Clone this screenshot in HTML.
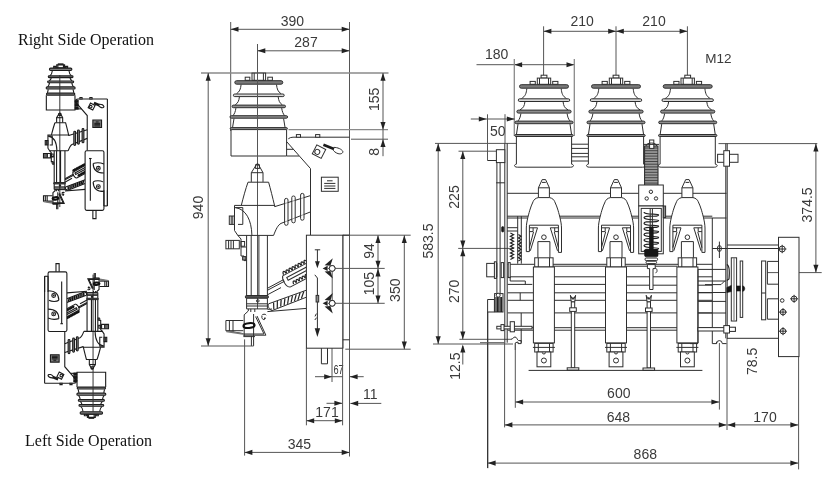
<!DOCTYPE html>
<html><head><meta charset="utf-8"><title>Switch dimensions</title>
<style>
html,body{margin:0;padding:0;background:#fff}
body{width:839px;height:483px;overflow:hidden}
svg{display:block;filter:blur(.4px)}
.d{fill:none;stroke:#2e2e2e;stroke-width:1}
.w{fill:#fff}
.g0{fill:#d8d8d8}
.wr{fill:rgba(255,255,255,.55)}
.g1{fill:#8e8e8e;stroke:#2e2e2e;stroke-width:1}
.g2{fill:#7a7a7a;stroke:#2e2e2e;stroke-width:1}
.g3{fill:none;stroke:#777;stroke-width:1.6}
.k{fill:none;stroke:#222;stroke-width:1.2}
.ksp{fill:none;stroke:#1a1a1a;stroke-width:2.7}
.k2{fill:#555;stroke:#222;stroke-width:1}
.k3{fill:none;stroke:#111;stroke-width:2}
.k4{fill:#222;stroke:none}
.m{fill:none;stroke:#555;stroke-width:1}
.m2{fill:none;stroke:#8a8a8a;stroke-width:1.3}
.a{fill:#222;stroke:none}
.kf{fill:#161616;stroke:#161616;stroke-width:.6}
.hz{fill:#9a9a9a;stroke:#222;stroke-width:1}
.hl{fill:none;stroke:#3a3a3a;stroke-width:.9}
.t{font-family:"Liberation Sans",sans-serif;font-size:14px;fill:#3a3a3a}
.sm path,.sm rect,.sm circle,.sm ellipse{vector-effect:non-scaling-stroke}
.sm .d{stroke:#1c1c1c;stroke-width:1.1}
.sm .k{stroke-width:1.5;stroke:#111}
.sm .m{stroke:#333}
.s{font-family:"Liberation Serif",serif;font-size:16px;fill:#111}
</style></head>
<body>
<svg width="839" height="483" viewBox="0 0 839 483">
<rect width="839" height="483" fill="#fff"/>
<g id="sideview">
<path class="m" d="M230.7 22L230.7 131"/>
<path class="m" d="M349.5 22L349.5 456.5"/>
<path class="m" d="M230.7 29.3L349.5 29.3"/>
<path class="a" d="M230.7 29.3L238.5 26.75L238.5 31.85Z"/>
<path class="a" d="M349.5 29.3L341.7 31.85L341.7 26.75Z"/>
<text class="t" x="292.4" y="25.7" text-anchor="middle">390</text>
<path class="m" d="M257.5 50.8L349.5 50.8"/>
<path class="a" d="M257.5 50.8L265.3 48.25L265.3 53.35Z"/>
<path class="a" d="M349.5 50.8L341.7 53.35L341.7 48.25Z"/>
<text class="t" x="306" y="47" text-anchor="middle">287</text>
<path class="m2" d="M201 73L388.5 73"/>
<path class="m" d="M208.2 73L208.2 346"/>
<path class="a" d="M208.2 73L210.75 80.8L205.65 80.8Z"/>
<path class="a" d="M208.2 346L205.65 338.2L210.75 338.2Z"/>
<path class="m" d="M201 346L253.6 346"/>
<text class="t" x="202.8" y="207.5" text-anchor="middle" transform="rotate(-90 202.8 207.5)">940</text>
<path class="m2" d="M288.5 129.7L388 129.7"/>
<path class="m" d="M383 73L383 129.7"/>
<path class="a" d="M383 73L385.55 80.8L380.45 80.8Z"/>
<path class="a" d="M383 129.7L380.45 121.9L385.55 121.9Z"/>
<text class="t" x="378.6" y="99.3" text-anchor="middle" transform="rotate(-90 378.6 99.3)">155</text>
<path class="m" d="M351 139.2L388 139.2"/>
<path class="m" d="M383 129.7L383 156.2"/>
<path class="a" d="M383 139.2L385.55 147L380.45 147Z"/>
<text class="t" x="378.6" y="151.9" text-anchor="middle" transform="rotate(-90 378.6 151.9)">8</text>
<path class="m" d="M378 235.2L378 303.3"/>
<path class="a" d="M378 235.2L380.55 243L375.45 243Z"/>
<path class="a" d="M378 268.6L375.45 260.8L380.55 260.8Z"/>
<path class="a" d="M378 268.6L380.55 276.4L375.45 276.4Z"/>
<path class="a" d="M378 303.3L375.45 295.5L380.55 295.5Z"/>
<text class="t" x="373.8" y="251" text-anchor="middle" transform="rotate(-90 373.8 251)">94</text>
<text class="t" x="373.8" y="283.6" text-anchor="middle" transform="rotate(-90 373.8 283.6)">105</text>
<path class="m" d="M342.8 235.2L410.7 235.2"/>
<path class="m" d="M345.3 349.2L410.7 349.2"/>
<path class="m" d="M404.3 235.2L404.3 349.2"/>
<path class="a" d="M404.3 235.2L406.85 243L401.75 243Z"/>
<path class="a" d="M404.3 349.2L401.75 341.4L406.85 341.4Z"/>
<text class="t" x="400.4" y="290.2" text-anchor="middle" transform="rotate(-90 400.4 290.2)">350</text>
<path class="m" d="M332 306.6L332 382"/>
<path class="m" d="M315 376.7L342.8 376.7"/>
<path class="a" d="M332 376.7L324.2 379.25L324.2 374.15Z"/>
<path class="m" d="M349.8 376.7L363.7 376.7"/>
<path class="a" d="M349.8 376.7L357.6 374.15L357.6 379.25Z"/>
<text class="t" x="333.4" y="373.6" style="font-size:13px" textLength="10.2" lengthAdjust="spacingAndGlyphs">67</text>
<path class="m" d="M326.5 403.3L342.2 403.3"/>
<path class="a" d="M342.2 403.3L334.4 405.85L334.4 400.75Z"/>
<path class="m" d="M350.4 403.4L381.3 403.4"/>
<path class="a" d="M350.4 403.4L358.2 400.85L358.2 405.95Z"/>
<text class="t" x="370.2" y="399" text-anchor="middle">11</text>
<path class="m" d="M306.4 348.2L306.4 425.3"/>
<path class="m" d="M342.6 348.2L342.6 425.3"/>
<path class="m" d="M306.4 420.7L342.6 420.7"/>
<path class="a" d="M306.4 420.7L314.2 418.15L314.2 423.25Z"/>
<path class="a" d="M342.6 420.7L334.8 423.25L334.8 418.15Z"/>
<text class="t" x="327" y="417.4" text-anchor="middle">171</text>
<path class="m" d="M244.6 339.4L244.6 455.6"/>
<path class="m" d="M244.6 452.4L349.5 452.4"/>
<path class="a" d="M244.6 452.4L252.4 449.85L252.4 454.95Z"/>
<path class="a" d="M349.5 452.4L341.7 454.95L341.7 449.85Z"/>
<text class="t" x="299.4" y="448.7" text-anchor="middle">345</text>
<path class="d" d="M342.8 235.2L342.8 348.2"/>
<rect class="d w" x="252" y="73.1" width="13.6" height="7.2"/>
<path class="d" d="M254.2 73.1L254.2 80.3"/>
<path class="d" d="M263.4 73.1L263.4 80.3"/>
<rect class="d w" x="245.2" y="77.2" width="4.61" height="3.1"/>
<rect class="d w" x="267.79" y="77.2" width="4.61" height="3.1"/>
<path class="d" d="M241.1 84.6C240.6 89.1 239.7 91.62 236.5 93.8"/>
<path class="d" d="M276.5 84.6C277 89.1 277.9 91.62 281.1 93.8"/>
<path class="d" d="M239.4 97C238.9 100.85 238 103.01 235.2 104.9"/>
<path class="d" d="M278.2 97C278.7 100.85 279.6 103.01 282.4 104.9"/>
<path class="d" d="M235.9 108.1C235.4 111.7 234.5 113.72 233.1 115.5"/>
<path class="d" d="M281.7 108.1C282.2 111.7 283.1 113.72 284.5 115.5"/>
<path class="d" d="M234 118.6L232.6 127.2"/>
<path class="d" d="M283.6 118.6L285 127.2"/>
<rect class="d g2" x="234.8" y="80.7" width="48" height="3.5" rx="1.75"/>
<rect class="d g0" x="233.4" y="94" width="50.8" height="2.6" rx="1.3"/>
<rect class="d g1" x="232.1" y="105.1" width="53.4" height="2.6" rx="1.3"/>
<rect class="d g1" x="230" y="115.7" width="57.6" height="2.5" rx="1.25"/>
<rect class="d g1" x="230.2" y="127.6" width="57.2" height="2" rx="1"/>
<path class="d" d="M231 130L231 156L286.6 156L286.6 130"/>
<path class="m" d="M257.5 44L257.5 309"/>
<path class="d" d="M288.3 138.8Q290 137.3 293 137.2L349.5 137.2"/>
<rect class="d w" x="296.4" y="134.6" width="4.1" height="2.6"/>
<rect class="d w" x="315.6" y="134.6" width="4.2" height="2.6"/>
<path class="d" d="M286.8 141.8L310.5 168.6L310.5 235"/>
<path class="d" d="M286.8 149.3L293.3 149.3"/>
<path class="d" d="M286.8 156L299 156"/>
<g transform="rotate(27 319 151.6)">
<rect class="d w" x="314" y="146.6" width="10" height="10"/>
<circle class="d w" cx="317.6" cy="152.6" r="2.5"/>
</g>
<path class="ksp" d="M323.4 144.8L334 149"/>
<path class="d" d="M333.6 147.4C337.5 147.2 342 149.4 342.8 151.4C343.2 153.4 340.6 154.4 338 153.6C335.4 152.8 333.8 151 333.2 150.2"/>
<rect class="d w" x="321.4" y="177.2" width="16.8" height="14.1"/>
<path class="d" d="M327 180.8L332.6 180.8"/>
<path class="d" d="M324.2 183.4L335.4 183.4"/>
<path class="d" d="M324.2 186L335.4 186"/>
<path class="d" d="M324.2 188.4L335.4 188.4"/>
<path class="d" d="M257.2 163.4L251.3 172.7L251.3 181.9"/>
<path class="d" d="M257.8 163.4L263 172.7L263 181.9"/>
<path class="d" d="M251.3 172.7L263 172.7"/>
<rect class="d" x="255.6" y="164.8" width="3.8" height="3.6"/>
<path class="d" d="M248 182.2L268.6 182.2C270.5 189 272.5 197 274.8 206.6"/>
<path class="d" d="M248 182.2C245.6 189 243.4 197 241.3 205.4"/>
<path class="d" d="M274.8 206.6L274.6 205.4L234.5 205.4L234.5 230.5L237.8 235.4L273.6 235.4"/>
<path class="d" d="M274.8 206.6L310.5 195.6"/>
<path class="d" d="M273.6 235.4C276 229 278 225 281 223.4L310.5 211.9"/>
<rect class="d wr" x="284.6" y="198.4" width="3.4" height="26.9" rx="1.6"/>
<rect class="d wr" x="291.8" y="196" width="3.4" height="26.8" rx="1.6"/>
<rect class="d wr" x="300.6" y="193.4" width="3.4" height="26.8" rx="1.6"/>
<path class="d" d="M235.2 207.6C246 209 251.5 220 251.9 235.2"/>
<path class="d" d="M235.2 207.6L242.8 207.6L242.8 224.4L238 224.4"/>
<rect class="d w" x="229.3" y="216" width="5.2" height="8.4"/>
<path class="d" d="M231.2 216L231.2 224.4"/>
<path class="d" d="M232.8 216L232.8 224.4"/>
<rect class="d w" x="225.9" y="240.4" width="13.4" height="8.4"/>
<path class="d" d="M228.6 240.4L228.6 248.8"/>
<path class="d" d="M231 240.4L231 248.8"/>
<path class="d" d="M233.4 240.4L233.4 248.8"/>
<path class="d" d="M237.8 235.4L241 239L241 247L246 247"/>
<rect class="d" x="241" y="241.5" width="3.6" height="4.7"/>
<path class="d" d="M241 247L241 256L244 256L244 260.6L246.6 260.6"/>
<rect class="g1" x="242.6" y="256.6" width="3.2" height="3.4"/>
<path class="d" d="M246.6 235.4L246.6 296"/>
<path class="d" d="M267.4 235.4L267.4 296"/>
<path class="d" d="M251.2 235.4L251.2 296"/>
<path class="d" d="M258.9 235.4L258.9 296"/>
<rect class="k2" x="245.4" y="295.6" width="23" height="2.6" rx="1"/>
<path class="d" d="M246.6 298.2L246.6 308.9"/>
<path class="d" d="M267.4 298.2L267.4 308.9"/>
<path class="d" d="M246.6 303.8L267.4 303.8"/>
<path class="d" d="M246.6 306L267.4 306"/>
<path class="d" d="M246.6 308.9L267.4 308.9"/>
<circle class="d" cx="257.8" cy="300.9" r="1.3"/>
<path class="d" d="M248.3 308.9L248.3 311L244.2 314.8L244.2 336.4"/>
<path class="d" d="M250.8 308.9L250.8 312"/>
<path class="d" d="M254.8 308.9L254.8 312"/>
<path class="d" d="M253.6 314L253.6 345.9"/>
<path class="d" d="M251.4 336L251.4 345.9"/>
<path class="d" d="M243.3 320.5L225.9 320.5L225.9 330.7L243.3 333.6"/>
<path class="d" d="M225.9 330.7L243.3 330.7"/>
<path class="d" d="M229.4 320.5L229.4 331.2"/>
<path class="d" d="M233 320.5L233 331.8"/>
<path class="g3" d="M226.4 331.4L243 334"/>
<ellipse class="k3" cx="249" cy="325.6" rx="5.6" ry="2.4" transform="rotate(-6 249 325.6)"/>
<path class="d" d="M257 316L265.9 335.2L243.4 335.2"/>
<path class="d" d="M255.6 316.6L264 334L243.4 334"/>
<path class="d" d="M243.4 336.6L255 336.6"/>
<path class="d" d="M261.6 315.6C262.5 314 265.5 313.6 266.2 315.2M262 316C261.4 318 262.5 319.8 264.4 319.6L264.6 317.8L266 318.4"/>
<path class="d" d="M267.4 311.6L306.4 308.4"/>
<path class="d" d="M267.4 309.4L272 309"/>
<path class="d" d="M267.6 288.2L283.6 279.6"/>
<path class="d" d="M267.6 290.2L284.6 281.2"/>
<path class="d" d="M267.4 294.8L281 287.6"/>
<g transform="rotate(-28 282.2 275)">
<path class="d" d="M312 276L282.2 276"/>
<path class="d" d="M283.5 289.4L312 289.4"/>
<path class="d" d="M282.2 276C279.6 279 280 287.4 283.5 289.4"/>
<path class="k" d="M283.5 275.4C283.9 271.6 286.1 271.6 286.5 275.4"/>
<path class="k" d="M286.9 275.4C287.3 271.6 289.5 271.6 289.9 275.4"/>
<path class="k" d="M290.3 275.4C290.7 271.6 292.9 271.6 293.3 275.4"/>
<path class="k" d="M293.7 275.4C294.1 271.6 296.3 271.6 296.7 275.4"/>
<path class="k" d="M297.1 275.4C297.5 271.6 299.7 271.6 300.1 275.4"/>
<path class="k" d="M300.5 275.4C300.9 271.6 303.1 271.6 303.5 275.4"/>
<path class="k" d="M303.9 275.4C304.3 271.6 306.5 271.6 306.9 275.4"/>
<path class="k" d="M307.3 275.4C307.7 271.6 309.9 271.6 310.3 275.4"/>
<rect class="d" x="285" y="279.4" width="23" height="3"/>
<path class="k" d="M288 288.4C288.4 284.8 290.6 284.8 291 288.4"/>
<path class="k" d="M291.4 288.4C291.8 284.8 294 284.8 294.4 288.4"/>
<path class="k" d="M294.8 288.4C295.2 284.8 297.4 284.8 297.8 288.4"/>
<path class="k" d="M298.2 288.4C298.6 284.8 300.8 284.8 301.2 288.4"/>
<path class="k" d="M301.6 288.4C302 284.8 304.2 284.8 304.6 288.4"/>
<path class="k" d="M305 288.4C305.4 284.8 307.6 284.8 308 288.4"/>
</g>
<path class="d" d="M268.6 303.8L306.4 290.2"/>
<path class="d" d="M272 310.6L306.4 297.2"/>
<path class="d" d="M268.6 303.8C267.6 306 268.8 309.4 272 310.6"/>
<path class="k" d="M273.58 302.44L273.84 309.26"/>
<path class="k" d="M277.36 301.08L277.28 307.92"/>
<path class="k" d="M281.14 299.72L280.72 306.58"/>
<path class="k" d="M284.92 298.36L284.16 305.24"/>
<path class="k" d="M288.7 297L287.6 303.9"/>
<path class="k" d="M292.48 295.64L291.04 302.56"/>
<path class="k" d="M296.26 294.28L294.48 301.22"/>
<path class="k" d="M300.04 292.92L297.92 299.88"/>
<path class="k" d="M303.82 291.56L301.36 298.54"/>
<rect class="d w" x="306.4" y="235.2" width="36.4" height="113"/>
<path class="d" d="M342.8 235.2L349.5 235.2"/>
<path class="d" d="M314.8 249.8L320.2 249.8"/>
<path class="d" d="M317.4 249.8L317.4 262"/>
<path class="k4" d="M317.4 268.3L315 261.3L319.8 261.3Z"/>
<path class="d" d="M314.8 274.8L317.4 278L317.4 295.4"/>
<rect class="g1" x="316.1" y="295.4" width="2.6" height="6.6"/>
<path class="d" d="M317.4 302L317.4 329"/>
<path class="k4" d="M317.4 336.9L314.7 328.3L320.1 328.3Z"/>
<path class="d" d="M315 316.4L316.4 313.6M314.8 320L316.6 317.6"/>
<path class="m" d="M332.2 268.4L332.2 306"/>
<circle class="d w" cx="332.2" cy="268.4" r="2.9"/>
<path class="m" d="M328 268.4L384.7 268.4"/>
<path class="k4" d="M324.6 265.2L332.8 258.2L330.4 265.8Z"/>
<path class="k4" d="M324.6 271.6L332.8 278.6L330.4 271Z"/>
<path class="k4" d="M322.6 268.4L327.6 265.8L327.6 271Z"/>
<circle class="d w" cx="332.2" cy="268.4" r="2.9"/>
<circle class="d w" cx="332.2" cy="303.3" r="2.9"/>
<path class="m" d="M328 303.3L384.7 303.3"/>
<path class="k4" d="M324.6 300.1L332.8 293.1L330.4 300.7Z"/>
<path class="k4" d="M324.6 306.5L332.8 313.5L330.4 305.9Z"/>
<path class="k4" d="M322.6 303.3L327.6 300.7L327.6 305.9Z"/>
<circle class="d w" cx="332.2" cy="303.3" r="2.9"/>
<path class="d" d="M321.4 348.2L321.4 363.8L327.5 363.8L327.5 348.2"/>
<path class="d" d="M342.8 339.8L349.5 339.8"/>
</g>
<text class="s" x="18" y="45" text-anchor="start" style="font-size:16px">Right Side Operation</text>
<text class="s" x="25" y="445.8" text-anchor="start" style="font-size:16px">Left Side Operation</text>
<g id="rightop" class="sm" transform="translate(-73.3 26.5) scale(0.517 0.528)">
<rect class="d w" x="254.6" y="70.8" width="9" height="1.8"/>
<rect class="d w" x="251.5" y="72.6" width="15.2" height="5.8"/>
<path class="d" d="M253.7 72.6L253.7 78.4"/>
<path class="d" d="M264.5 72.6L264.5 78.4"/>
<rect class="d w" x="245.6" y="75.6" width="4.5" height="2.8"/>
<rect class="d w" x="268.1" y="75.6" width="4.5" height="2.8"/>
<path class="d" d="M243 83.7C242.5 88.45 241.6 91.11 238.3 93.4"/>
<path class="d" d="M275.2 83.7C275.7 88.45 276.6 91.11 279.9 93.4"/>
<path class="d" d="M240.9 97.3C240.4 100 239.5 101.51 237 102.9"/>
<path class="d" d="M277.3 97.3C277.8 100 278.7 101.51 281.2 102.9"/>
<path class="d" d="M237.5 106.8C237 110.4 236.1 112.42 234.2 114.2"/>
<path class="d" d="M280.7 106.8C281.2 110.4 282.1 112.42 284 114.2"/>
<path class="d" d="M235.1 118.9L233.6 125.8"/>
<path class="d" d="M283.1 118.9L284.6 125.8"/>
<rect class="d g2" x="237.4" y="78.8" width="43.4" height="4.5" rx="2.25"/>
<rect class="d g1" x="235.2" y="93.6" width="47.8" height="3.3" rx="1.65"/>
<rect class="d g1" x="233.9" y="103.1" width="50.4" height="3.3" rx="1.65"/>
<rect class="d g1" x="231.1" y="114.4" width="56" height="4.1" rx="2.05"/>
<rect class="d g1" x="231.7" y="126.2" width="54.8" height="3.7" rx="1.85"/>
<path class="d" d="M231.4 130.3L231.4 158.1L286.8 158.1L286.8 130.3"/>
<path class="m" d="M257.5 92L257.5 342"/>
<path class="d" d="M288.3 138.8Q290 137.3 293 137.2L349.5 137.2"/>
<rect class="d w" x="296.4" y="134.6" width="4.1" height="2.6"/>
<rect class="d w" x="315.6" y="134.6" width="4.2" height="2.6"/>
<path class="d" d="M286.8 141.8L310.5 168.6L310.5 235"/>
<path class="d" d="M286.8 149.3L293.3 149.3"/>
<path class="d" d="M286.8 156L299 156"/>
<g transform="rotate(27 319 151.6)">
<rect class="d w" x="314" y="146.6" width="10" height="10"/>
<circle class="d w" cx="317.6" cy="152.6" r="2.5"/>
</g>
<path class="ksp" d="M323.4 144.8L334 149"/>
<path class="d" d="M333.6 147.4C337.5 147.2 342 149.4 342.8 151.4C343.2 153.4 340.6 154.4 338 153.6C335.4 152.8 333.8 151 333.2 150.2"/>
<rect class="d g2" x="321.4" y="177.2" width="16.8" height="14.1"/>
<rect class="kf" x="287" y="139.4" width="6.4" height="5"/>
<rect class="kf" x="287" y="145.6" width="6.4" height="5"/>
<rect class="kf" x="287" y="151.8" width="6.4" height="5"/>
<path class="d" d="M327 180.8L332.6 180.8"/>
<path class="d" d="M324.2 183.4L335.4 183.4"/>
<path class="d" d="M324.2 186L335.4 186"/>
<path class="d" d="M324.2 188.4L335.4 188.4"/>
<path class="d" d="M257.2 163.4L251.3 172.7L251.3 181.9"/>
<path class="d" d="M257.8 163.4L263 172.7L263 181.9"/>
<path class="d" d="M251.3 172.7L263 172.7"/>
<rect class="d" x="255.6" y="164.8" width="3.8" height="3.6"/>
<path class="d" d="M248 182.2L268.6 182.2C270.5 189 272.5 197 274.8 206.6"/>
<path class="d" d="M248 182.2C245.6 189 243.4 197 241.3 205.4"/>
<path class="d" d="M274.8 206.6L274.6 205.4L234.5 205.4L234.5 230.5L237.8 235.4L273.6 235.4"/>
<path class="d" d="M274.8 206.6L310.5 195.6"/>
<path class="d" d="M273.6 235.4C276 229 278 225 281 223.4L310.5 211.9"/>
<rect class="d g1" x="284.6" y="198.4" width="3.4" height="26.9" rx="1.6"/>
<rect class="d g1" x="291.8" y="196" width="3.4" height="26.8" rx="1.6"/>
<rect class="d g1" x="300.6" y="193.4" width="3.4" height="26.8" rx="1.6"/>
<path class="d" d="M235.2 207.6C246 209 251.5 220 251.9 235.2"/>
<path class="d" d="M235.2 207.6L242.8 207.6L242.8 224.4L238 224.4"/>
<rect class="d w" x="229.3" y="216" width="5.2" height="8.4"/>
<path class="d" d="M231.2 216L231.2 224.4"/>
<path class="d" d="M232.8 216L232.8 224.4"/>
<rect class="d w" x="225.9" y="240.4" width="13.4" height="8.4"/>
<path class="d" d="M228.6 240.4L228.6 248.8"/>
<path class="d" d="M231 240.4L231 248.8"/>
<path class="d" d="M233.4 240.4L233.4 248.8"/>
<path class="d" d="M237.8 235.4L241 239L241 247L246 247"/>
<rect class="d" x="241" y="241.5" width="3.6" height="4.7"/>
<path class="d" d="M241 247L241 256L244 256L244 260.6L246.6 260.6"/>
<rect class="g1" x="242.6" y="256.6" width="3.2" height="3.4"/>
<path class="d" d="M246.6 235.4L246.6 296"/>
<path class="d" d="M267.4 235.4L267.4 296"/>
<path class="d" d="M251.2 235.4L251.2 296"/>
<path class="d" d="M258.9 235.4L258.9 296"/>
<rect class="k2" x="245.4" y="295.6" width="23" height="2.6" rx="1"/>
<path class="d" d="M246.6 298.2L246.6 308.9"/>
<path class="d" d="M267.4 298.2L267.4 308.9"/>
<path class="d" d="M246.6 303.8L267.4 303.8"/>
<path class="d" d="M246.6 306L267.4 306"/>
<path class="d" d="M246.6 308.9L267.4 308.9"/>
<circle class="d" cx="257.8" cy="300.9" r="1.3"/>
<path class="d" d="M248.3 308.9L248.3 311L244.2 314.8L244.2 336.4"/>
<path class="d" d="M250.8 308.9L250.8 312"/>
<path class="d" d="M254.8 308.9L254.8 312"/>
<path class="d" d="M253.6 314L253.6 345.9"/>
<path class="d" d="M251.4 336L251.4 345.9"/>
<path class="d" d="M243.3 320.5L225.9 320.5L225.9 330.7L243.3 333.6"/>
<path class="d" d="M225.9 330.7L243.3 330.7"/>
<path class="d" d="M229.4 320.5L229.4 331.2"/>
<path class="d" d="M233 320.5L233 331.8"/>
<path class="g3" d="M226.4 331.4L243 334"/>
<ellipse class="k3" cx="249" cy="325.6" rx="5.6" ry="2.4" transform="rotate(-6 249 325.6)"/>
<path class="d" d="M257 316L265.9 335.2L243.4 335.2"/>
<path class="d" d="M255.6 316.6L264 334L243.4 334"/>
<path class="d" d="M243.4 336.6L255 336.6"/>
<path class="d" d="M261.6 315.6C262.5 314 265.5 313.6 266.2 315.2M262 316C261.4 318 262.5 319.8 264.4 319.6L264.6 317.8L266 318.4"/>
<path class="d" d="M267.4 311.6L306.4 308.4"/>
<path class="d" d="M267.4 309.4L272 309"/>
<path class="d" d="M267.6 288.2L283.6 279.6"/>
<path class="d" d="M267.6 290.2L284.6 281.2"/>
<path class="d" d="M267.4 294.8L281 287.6"/>
<g transform="rotate(-28 282.2 275)">
<path class="d" d="M312 276L282.2 276"/>
<path class="d" d="M283.5 289.4L312 289.4"/>
<path class="d" d="M282.2 276C279.6 279 280 287.4 283.5 289.4"/>
<path class="k" d="M283.5 275.4C283.9 271.6 286.1 271.6 286.5 275.4"/>
<path class="k" d="M286.9 275.4C287.3 271.6 289.5 271.6 289.9 275.4"/>
<path class="k" d="M290.3 275.4C290.7 271.6 292.9 271.6 293.3 275.4"/>
<path class="k" d="M293.7 275.4C294.1 271.6 296.3 271.6 296.7 275.4"/>
<path class="k" d="M297.1 275.4C297.5 271.6 299.7 271.6 300.1 275.4"/>
<path class="k" d="M300.5 275.4C300.9 271.6 303.1 271.6 303.5 275.4"/>
<path class="k" d="M303.9 275.4C304.3 271.6 306.5 271.6 306.9 275.4"/>
<path class="k" d="M307.3 275.4C307.7 271.6 309.9 271.6 310.3 275.4"/>
<rect class="d" x="285" y="279.4" width="23" height="3"/>
<path class="k" d="M288 288.4C288.4 284.8 290.6 284.8 291 288.4"/>
<path class="k" d="M291.4 288.4C291.8 284.8 294 284.8 294.4 288.4"/>
<path class="k" d="M294.8 288.4C295.2 284.8 297.4 284.8 297.8 288.4"/>
<path class="k" d="M298.2 288.4C298.6 284.8 300.8 284.8 301.2 288.4"/>
<path class="k" d="M301.6 288.4C302 284.8 304.2 284.8 304.6 288.4"/>
<path class="k" d="M305 288.4C305.4 284.8 307.6 284.8 308 288.4"/>
</g>
<path class="d" d="M268.6 303.8L306.4 290.2"/>
<path class="d" d="M272 310.6L306.4 297.2"/>
<path class="d" d="M268.6 303.8C267.6 306 268.8 309.4 272 310.6"/>
<path class="k" d="M273.58 302.44L273.84 309.26"/>
<path class="k" d="M277.36 301.08L277.28 307.92"/>
<path class="k" d="M281.14 299.72L280.72 306.58"/>
<path class="k" d="M284.92 298.36L284.16 305.24"/>
<path class="k" d="M288.7 297L287.6 303.9"/>
<path class="k" d="M292.48 295.64L291.04 302.56"/>
<path class="k" d="M296.26 294.28L294.48 301.22"/>
<path class="k" d="M300.04 292.92L297.92 299.88"/>
<path class="k" d="M303.82 291.56L301.36 298.54"/>
<rect class="d w" x="306.4" y="235.2" width="36.4" height="113" rx="3"/>
<path class="d" d="M349.5 137.2L349.5 340"/>
<path class="d" d="M342.8 310L342.8 339.8"/>
<path class="d" d="M342.8 339.8L349.5 339.8"/>
<path class="d" d="M349.5 310L349.5 340"/>
<path class="d" d="M316.5 250L316.5 330"/>
<path class="d" d="M314 250L319 250"/>
<circle class="d" cx="332" cy="268.6" r="3.6"/>
<circle class="kf" cx="332" cy="268.6" r="1.2"/>
<path class="d" d="M322 259.6C328 257.6 338 258.6 342.8 260.6"/>
<path class="d" d="M322 259.6C322 272.6 330 277.6 342.8 277.6"/>
<circle class="d" cx="332" cy="303.3" r="3.6"/>
<circle class="kf" cx="332" cy="303.3" r="1.2"/>
<path class="d" d="M322 294.3C326 291.3 336 291.3 341 294.3"/>
<path class="d" d="M322 294.3C322 307.3 330 312.3 342.8 312.3"/>
<path class="d" d="M321.4 348.2L321.4 363.8L327.5 363.8L327.5 348.2"/>
</g>
<g id="leftop" class="sm" transform="rotate(180 76 241.1) translate(-73.3 26.5) scale(0.517 0.528)">
<rect class="d w" x="254.6" y="70.8" width="9" height="1.8"/>
<rect class="d w" x="251.5" y="72.6" width="15.2" height="5.8"/>
<path class="d" d="M253.7 72.6L253.7 78.4"/>
<path class="d" d="M264.5 72.6L264.5 78.4"/>
<rect class="d w" x="245.6" y="75.6" width="4.5" height="2.8"/>
<rect class="d w" x="268.1" y="75.6" width="4.5" height="2.8"/>
<path class="d" d="M243 83.7C242.5 88.45 241.6 91.11 238.3 93.4"/>
<path class="d" d="M275.2 83.7C275.7 88.45 276.6 91.11 279.9 93.4"/>
<path class="d" d="M240.9 97.3C240.4 100 239.5 101.51 237 102.9"/>
<path class="d" d="M277.3 97.3C277.8 100 278.7 101.51 281.2 102.9"/>
<path class="d" d="M237.5 106.8C237 110.4 236.1 112.42 234.2 114.2"/>
<path class="d" d="M280.7 106.8C281.2 110.4 282.1 112.42 284 114.2"/>
<path class="d" d="M235.1 118.9L233.6 125.8"/>
<path class="d" d="M283.1 118.9L284.6 125.8"/>
<rect class="d g2" x="237.4" y="78.8" width="43.4" height="4.5" rx="2.25"/>
<rect class="d g1" x="235.2" y="93.6" width="47.8" height="3.3" rx="1.65"/>
<rect class="d g1" x="233.9" y="103.1" width="50.4" height="3.3" rx="1.65"/>
<rect class="d g1" x="231.1" y="114.4" width="56" height="4.1" rx="2.05"/>
<rect class="d g1" x="231.7" y="126.2" width="54.8" height="3.7" rx="1.85"/>
<path class="d" d="M231.4 130.3L231.4 158.1L286.8 158.1L286.8 130.3"/>
<path class="m" d="M255.8 83L255.8 343"/>
<path class="d" d="M288.3 138.8Q290 137.3 293 137.2L349.5 137.2"/>
<rect class="d w" x="296.4" y="134.6" width="4.1" height="2.6"/>
<rect class="d w" x="315.6" y="134.6" width="4.2" height="2.6"/>
<path class="d" d="M286.8 141.8L310.5 168.6L310.5 235"/>
<path class="d" d="M286.8 149.3L293.3 149.3"/>
<path class="d" d="M286.8 156L299 156"/>
<g transform="rotate(27 319 151.6)">
<rect class="d w" x="314" y="146.6" width="10" height="10"/>
<circle class="d w" cx="317.6" cy="152.6" r="2.5"/>
</g>
<path class="ksp" d="M323.4 144.8L334 149"/>
<path class="d" d="M333.6 147.4C337.5 147.2 342 149.4 342.8 151.4C343.2 153.4 340.6 154.4 338 153.6C335.4 152.8 333.8 151 333.2 150.2"/>
<rect class="d g2" x="321.4" y="177.2" width="16.8" height="14.1"/>
<rect class="kf" x="287" y="139.4" width="6.4" height="5"/>
<rect class="kf" x="287" y="145.6" width="6.4" height="5"/>
<rect class="kf" x="287" y="151.8" width="6.4" height="5"/>
<path class="d" d="M327 180.8L332.6 180.8"/>
<path class="d" d="M324.2 183.4L335.4 183.4"/>
<path class="d" d="M324.2 186L335.4 186"/>
<path class="d" d="M324.2 188.4L335.4 188.4"/>
<path class="d" d="M257.2 163.4L251.3 172.7L251.3 181.9"/>
<path class="d" d="M257.8 163.4L263 172.7L263 181.9"/>
<path class="d" d="M251.3 172.7L263 172.7"/>
<rect class="d" x="255.6" y="164.8" width="3.8" height="3.6"/>
<path class="d" d="M248 182.2L268.6 182.2C270.5 189 272.5 197 274.8 206.6"/>
<path class="d" d="M248 182.2C245.6 189 243.4 197 241.3 205.4"/>
<path class="d" d="M274.8 206.6L274.6 205.4L234.5 205.4L234.5 230.5L237.8 235.4L273.6 235.4"/>
<path class="d" d="M274.8 206.6L310.5 195.6"/>
<path class="d" d="M273.6 235.4C276 229 278 225 281 223.4L310.5 211.9"/>
<rect class="d g1" x="284.6" y="198.4" width="3.4" height="26.9" rx="1.6"/>
<rect class="d g1" x="291.8" y="196" width="3.4" height="26.8" rx="1.6"/>
<rect class="d g1" x="300.6" y="193.4" width="3.4" height="26.8" rx="1.6"/>
<path class="d" d="M235.2 207.6C246 209 251.5 220 251.9 235.2"/>
<path class="d" d="M235.2 207.6L242.8 207.6L242.8 224.4L238 224.4"/>
<rect class="d w" x="229.3" y="216" width="5.2" height="8.4"/>
<path class="d" d="M231.2 216L231.2 224.4"/>
<path class="d" d="M232.8 216L232.8 224.4"/>
<rect class="d w" x="225.9" y="240.4" width="13.4" height="8.4"/>
<path class="d" d="M228.6 240.4L228.6 248.8"/>
<path class="d" d="M231 240.4L231 248.8"/>
<path class="d" d="M233.4 240.4L233.4 248.8"/>
<path class="d" d="M237.8 235.4L241 239L241 247L246 247"/>
<rect class="d" x="241" y="241.5" width="3.6" height="4.7"/>
<path class="d" d="M241 247L241 256L244 256L244 260.6L246.6 260.6"/>
<rect class="g1" x="242.6" y="256.6" width="3.2" height="3.4"/>
<path class="d" d="M246.6 235.4L246.6 296"/>
<path class="d" d="M267.4 235.4L267.4 296"/>
<path class="d" d="M251.2 235.4L251.2 296"/>
<path class="d" d="M258.9 235.4L258.9 296"/>
<rect class="k2" x="245.4" y="295.6" width="23" height="2.6" rx="1"/>
<path class="d" d="M246.6 298.2L246.6 308.9"/>
<path class="d" d="M267.4 298.2L267.4 308.9"/>
<path class="d" d="M246.6 303.8L267.4 303.8"/>
<path class="d" d="M246.6 306L267.4 306"/>
<path class="d" d="M246.6 308.9L267.4 308.9"/>
<circle class="d" cx="257.8" cy="300.9" r="1.3"/>
<path class="d" d="M248.3 308.9L248.3 311L244.2 314.8L244.2 336.4"/>
<path class="d" d="M250.8 308.9L250.8 312"/>
<path class="d" d="M254.8 308.9L254.8 312"/>
<path class="d" d="M253.6 314L253.6 345.9"/>
<path class="d" d="M251.4 336L251.4 345.9"/>
<path class="d" d="M243.3 320.5L225.9 320.5L225.9 330.7L243.3 333.6"/>
<path class="d" d="M225.9 330.7L243.3 330.7"/>
<path class="d" d="M229.4 320.5L229.4 331.2"/>
<path class="d" d="M233 320.5L233 331.8"/>
<path class="g3" d="M226.4 331.4L243 334"/>
<ellipse class="k3" cx="249" cy="325.6" rx="5.6" ry="2.4" transform="rotate(-6 249 325.6)"/>
<path class="d" d="M257 316L265.9 335.2L243.4 335.2"/>
<path class="d" d="M255.6 316.6L264 334L243.4 334"/>
<path class="d" d="M243.4 336.6L255 336.6"/>
<path class="d" d="M261.6 315.6C262.5 314 265.5 313.6 266.2 315.2M262 316C261.4 318 262.5 319.8 264.4 319.6L264.6 317.8L266 318.4"/>
<path class="d" d="M267.4 311.6L306.4 308.4"/>
<path class="d" d="M267.4 309.4L272 309"/>
<path class="d" d="M267.6 288.2L283.6 279.6"/>
<path class="d" d="M267.6 290.2L284.6 281.2"/>
<path class="d" d="M267.4 294.8L281 287.6"/>
<g transform="rotate(-28 282.2 275)">
<path class="d" d="M312 276L282.2 276"/>
<path class="d" d="M283.5 289.4L312 289.4"/>
<path class="d" d="M282.2 276C279.6 279 280 287.4 283.5 289.4"/>
<path class="k" d="M283.5 275.4C283.9 271.6 286.1 271.6 286.5 275.4"/>
<path class="k" d="M286.9 275.4C287.3 271.6 289.5 271.6 289.9 275.4"/>
<path class="k" d="M290.3 275.4C290.7 271.6 292.9 271.6 293.3 275.4"/>
<path class="k" d="M293.7 275.4C294.1 271.6 296.3 271.6 296.7 275.4"/>
<path class="k" d="M297.1 275.4C297.5 271.6 299.7 271.6 300.1 275.4"/>
<path class="k" d="M300.5 275.4C300.9 271.6 303.1 271.6 303.5 275.4"/>
<path class="k" d="M303.9 275.4C304.3 271.6 306.5 271.6 306.9 275.4"/>
<path class="k" d="M307.3 275.4C307.7 271.6 309.9 271.6 310.3 275.4"/>
<rect class="d" x="285" y="279.4" width="23" height="3"/>
<path class="k" d="M288 288.4C288.4 284.8 290.6 284.8 291 288.4"/>
<path class="k" d="M291.4 288.4C291.8 284.8 294 284.8 294.4 288.4"/>
<path class="k" d="M294.8 288.4C295.2 284.8 297.4 284.8 297.8 288.4"/>
<path class="k" d="M298.2 288.4C298.6 284.8 300.8 284.8 301.2 288.4"/>
<path class="k" d="M301.6 288.4C302 284.8 304.2 284.8 304.6 288.4"/>
<path class="k" d="M305 288.4C305.4 284.8 307.6 284.8 308 288.4"/>
</g>
<path class="d" d="M268.6 303.8L306.4 290.2"/>
<path class="d" d="M272 310.6L306.4 297.2"/>
<path class="d" d="M268.6 303.8C267.6 306 268.8 309.4 272 310.6"/>
<path class="k" d="M273.58 302.44L273.84 309.26"/>
<path class="k" d="M277.36 301.08L277.28 307.92"/>
<path class="k" d="M281.14 299.72L280.72 306.58"/>
<path class="k" d="M284.92 298.36L284.16 305.24"/>
<path class="k" d="M288.7 297L287.6 303.9"/>
<path class="k" d="M292.48 295.64L291.04 302.56"/>
<path class="k" d="M296.26 294.28L294.48 301.22"/>
<path class="k" d="M300.04 292.92L297.92 299.88"/>
<path class="k" d="M303.82 291.56L301.36 298.54"/>
<rect class="d w" x="306.4" y="235.2" width="36.4" height="113" rx="3"/>
<path class="d" d="M349.5 137.2L349.5 340"/>
<path class="d" d="M342.8 310L342.8 339.8"/>
<path class="d" d="M342.8 339.8L349.5 339.8"/>
<path class="d" d="M349.5 310L349.5 340"/>
<path class="d" d="M316.5 250L316.5 330"/>
<path class="d" d="M314 250L319 250"/>
<circle class="d" cx="332" cy="268.6" r="3.6"/>
<circle class="kf" cx="332" cy="268.6" r="1.2"/>
<path class="d" d="M322 259.6C328 257.6 338 258.6 342.8 260.6"/>
<path class="d" d="M322 259.6C322 272.6 330 277.6 342.8 277.6"/>
<circle class="d" cx="332" cy="303.3" r="3.6"/>
<circle class="kf" cx="332" cy="303.3" r="1.2"/>
<path class="d" d="M322 294.3C326 291.3 336 291.3 341 294.3"/>
<path class="d" d="M322 294.3C322 307.3 330 312.3 342.8 312.3"/>
<path class="d" d="M321.4 348.2L321.4 363.8L327.5 363.8L327.5 348.2"/>
</g>
<g id="frontview">
<path class="m" d="M543.6 26.3L543.6 76.5"/>
<path class="m" d="M616 26.3L616 76.5"/>
<path class="m" d="M687.4 26.3L687.4 76.5"/>
<path class="m" d="M543.6 31.3L616 31.3"/>
<path class="a" d="M543.6 31.3L551.4 28.75L551.4 33.85Z"/>
<path class="a" d="M616 31.3L608.2 33.85L608.2 28.75Z"/>
<path class="m" d="M616 31.3L687.4 31.3"/>
<path class="a" d="M616 31.3L623.8 28.75L623.8 33.85Z"/>
<path class="a" d="M687.4 31.3L679.6 33.85L679.6 28.75Z"/>
<text class="t" x="582.1" y="26.3" text-anchor="middle">210</text>
<text class="t" x="654" y="26.3" text-anchor="middle">210</text>
<text class="t" x="718.4" y="62.7" text-anchor="middle" style="font-size:13.5px">M12</text>
<path class="m" d="M476.5 64.7L574.3 64.7"/>
<path class="a" d="M514.3 64.7L522.1 62.15L522.1 67.25Z"/>
<path class="a" d="M574.3 64.7L566.5 67.25L566.5 62.15Z"/>
<text class="t" x="496.6" y="58.9" text-anchor="middle">180</text>
<path class="m2" d="M514.3 58.9L514.3 136"/>
<path class="m2" d="M574.3 58.9L574.3 136"/>
<path class="m" d="M470.8 119L514.6 119"/>
<path class="a" d="M486.6 119L478.8 121.55L478.8 116.45Z"/>
<path class="a" d="M514.6 119L506.8 121.55L506.8 116.45Z"/>
<path class="m" d="M487.5 114.3L487.5 160.5"/>
<path class="m" d="M505 114.2L505 143.4"/>
<text class="t" x="497.8" y="136" text-anchor="middle">50</text>
<path class="m" d="M435 143.4L516.4 143.4"/>
<path class="m" d="M433 344L513 344"/>
<path class="m" d="M438.2 143.4L438.2 344"/>
<path class="a" d="M438.2 143.4L440.75 151.2L435.65 151.2Z"/>
<path class="a" d="M438.2 344L435.65 336.2L440.75 336.2Z"/>
<text class="t" x="433.1" y="241" text-anchor="middle" transform="rotate(-90 433.1 241)">583.5</text>
<path class="m" d="M458.5 151.2L497 151.2"/>
<path class="m" d="M458.2 248.4L513.9 248.4"/>
<path class="m" d="M459.4 339.3L511.4 339.3"/>
<path class="m" d="M462.8 151.2L462.8 339.3"/>
<path class="a" d="M462.8 151.2L465.35 159L460.25 159Z"/>
<path class="a" d="M462.8 248.4L460.25 240.6L465.35 240.6Z"/>
<path class="a" d="M462.8 248.4L465.35 256.2L460.25 256.2Z"/>
<path class="a" d="M462.8 339.3L460.25 331.5L465.35 331.5Z"/>
<path class="m" d="M462.8 346L462.8 364.5"/>
<path class="a" d="M462.8 344.6L465.35 352.4L460.25 352.4Z"/>
<text class="t" x="459.4" y="197" text-anchor="middle" transform="rotate(-90 459.4 197)">225</text>
<text class="t" x="459.4" y="291.3" text-anchor="middle" transform="rotate(-90 459.4 291.3)">270</text>
<text class="t" x="459.9" y="366.2" text-anchor="middle" transform="rotate(-90 459.9 366.2)">12.5</text>
<path class="m" d="M515.3 343L515.3 407.8"/>
<path class="m" d="M719.4 343L719.4 409.6"/>
<path class="m" d="M515.3 402L719.2 402"/>
<path class="a" d="M515.3 402L523.1 399.45L523.1 404.55Z"/>
<path class="a" d="M719.2 402L711.4 404.55L711.4 399.45Z"/>
<text class="t" x="618.8" y="398.2" text-anchor="middle">600</text>
<path class="m" d="M504.6 343L504.6 427.4"/>
<path class="m" d="M727 338L727 430"/>
<path class="m" d="M504.6 424.9L726.6 424.9"/>
<path class="a" d="M504.6 424.9L512.4 422.35L512.4 427.45Z"/>
<path class="a" d="M726.6 424.9L718.8 427.45L718.8 422.35Z"/>
<text class="t" x="618.4" y="421.6" text-anchor="middle">648</text>
<path class="m" d="M798.6 356.6L798.6 469.4"/>
<path class="m" d="M727.4 424.9L798.2 424.9"/>
<path class="a" d="M727.4 424.9L735.2 422.35L735.2 427.45Z"/>
<path class="a" d="M798.2 424.9L790.4 427.45L790.4 422.35Z"/>
<text class="t" x="765" y="421.6" text-anchor="middle">170</text>
<path class="m" d="M487.8 312L487.8 468.2"/>
<path class="m" d="M487.8 463.1L798.2 463.1"/>
<path class="a" d="M487.8 463.1L495.6 460.55L495.6 465.65Z"/>
<path class="a" d="M798.2 463.1L790.4 465.65L790.4 460.55Z"/>
<text class="t" x="645.3" y="459.3" text-anchor="middle">868</text>
<path class="m" d="M718.5 143.6L817.3 143.6"/>
<path class="m" d="M767.4 272.6L821.7 272.6"/>
<path class="m" d="M815.9 143.6L815.9 272.6"/>
<path class="a" d="M815.9 143.6L818.45 151.4L813.35 151.4Z"/>
<path class="a" d="M815.9 272.6L813.35 264.8L818.45 264.8Z"/>
<text class="t" x="812" y="204.9" text-anchor="middle" transform="rotate(-90 812 204.9)">374.5</text>
<text class="t" x="757.3" y="361.4" text-anchor="middle" transform="rotate(-90 757.3 361.4)">78.5</text>
<path class="d" d="M571.5 144.2L588 144.2"/>
<path class="d" d="M571.5 148.4L588 148.4"/>
<path class="d" d="M571.5 153.4L588 153.4"/>
<path class="d" d="M571.5 156.8L588 156.8"/>
<path class="d" d="M571.5 161L588 161"/>
<rect class="d w" x="541.1" y="75.2" width="5.8" height="2.9"/>
<rect class="d w" x="537.3" y="78.1" width="13.4" height="6.2"/>
<path class="d" d="M539.5 78.1L539.5 84.3"/>
<path class="d" d="M548.5 78.1L548.5 84.3"/>
<rect class="d w" x="530.1" y="81.4" width="5.2" height="2.9"/>
<rect class="d w" x="552.7" y="81.4" width="5.2" height="2.9"/>
<path class="d" d="M526.8 88.6C526.3 93.5 525.4 96.24 521.4 98.6"/>
<path class="d" d="M561.2 88.6C561.7 93.5 562.6 96.24 566.6 98.6"/>
<path class="d" d="M524.9 101.9C524.4 105.8 523.5 107.98 520 109.9"/>
<path class="d" d="M563.1 101.9C563.6 105.8 564.5 107.98 568 109.9"/>
<path class="d" d="M520.9 113.5C520.4 117.1 519.5 119.12 518.1 120.9"/>
<path class="d" d="M567.1 113.5C567.6 117.1 568.5 119.12 569.9 120.9"/>
<path class="d" d="M518 124.1L516.5 134.1"/>
<path class="d" d="M570 124.1L571.5 134.1"/>
<rect class="d g2" x="519.5" y="84.7" width="49" height="3.5" rx="1.75"/>
<rect class="d g0" x="518.3" y="98.8" width="51.4" height="2.7" rx="1.35"/>
<rect class="d g1" x="516.9" y="110.1" width="54.2" height="3" rx="1.5"/>
<rect class="d g1" x="515" y="121.1" width="58" height="2.6" rx="1.3"/>
<rect class="d g1" x="514.8" y="134.5" width="58.4" height="2" rx="1"/>
<path class="d" d="M516.4 136.9L516.4 164.3"/>
<path class="d" d="M571.6 136.9L571.6 164.3"/>
<path class="d w" d="M516.4 164.3C513.7 164.3 513.7 167.2 517.4 167.2L570.6 167.2C574.3 167.2 574.3 164.3 571.6 164.3"/>
<rect class="d w" x="613.1" y="75.2" width="5.8" height="2.9"/>
<rect class="d w" x="609.3" y="78.1" width="13.4" height="6.2"/>
<path class="d" d="M611.5 78.1L611.5 84.3"/>
<path class="d" d="M620.5 78.1L620.5 84.3"/>
<rect class="d w" x="602.1" y="81.4" width="5.2" height="2.9"/>
<rect class="d w" x="624.7" y="81.4" width="5.2" height="2.9"/>
<path class="d" d="M598.8 88.6C598.3 93.5 597.4 96.24 593.4 98.6"/>
<path class="d" d="M633.2 88.6C633.7 93.5 634.6 96.24 638.6 98.6"/>
<path class="d" d="M596.9 101.9C596.4 105.8 595.5 107.98 592 109.9"/>
<path class="d" d="M635.1 101.9C635.6 105.8 636.5 107.98 640 109.9"/>
<path class="d" d="M592.9 113.5C592.4 117.1 591.5 119.12 590.1 120.9"/>
<path class="d" d="M639.1 113.5C639.6 117.1 640.5 119.12 641.9 120.9"/>
<path class="d" d="M590 124.1L588.5 134.1"/>
<path class="d" d="M642 124.1L643.5 134.1"/>
<rect class="d g2" x="591.5" y="84.7" width="49" height="3.5" rx="1.75"/>
<rect class="d g0" x="590.3" y="98.8" width="51.4" height="2.7" rx="1.35"/>
<rect class="d g1" x="588.9" y="110.1" width="54.2" height="3" rx="1.5"/>
<rect class="d g1" x="587" y="121.1" width="58" height="2.6" rx="1.3"/>
<rect class="d g1" x="586.8" y="134.5" width="58.4" height="2" rx="1"/>
<path class="d" d="M588.4 136.9L588.4 164.3"/>
<path class="d" d="M643.6 136.9L643.6 164.3"/>
<path class="d w" d="M588.4 164.3C585.7 164.3 585.7 167.2 589.4 167.2L642.6 167.2C646.3 167.2 646.3 164.3 643.6 164.3"/>
<rect class="d w" x="684.8" y="75.2" width="5.8" height="2.9"/>
<rect class="d w" x="681" y="78.1" width="13.4" height="6.2"/>
<path class="d" d="M683.2 78.1L683.2 84.3"/>
<path class="d" d="M692.2 78.1L692.2 84.3"/>
<rect class="d w" x="673.8" y="81.4" width="5.2" height="2.9"/>
<rect class="d w" x="696.4" y="81.4" width="5.2" height="2.9"/>
<path class="d" d="M670.5 88.6C670 93.5 669.1 96.24 665.1 98.6"/>
<path class="d" d="M704.9 88.6C705.4 93.5 706.3 96.24 710.3 98.6"/>
<path class="d" d="M668.6 101.9C668.1 105.8 667.2 107.98 663.7 109.9"/>
<path class="d" d="M706.8 101.9C707.3 105.8 708.2 107.98 711.7 109.9"/>
<path class="d" d="M664.6 113.5C664.1 117.1 663.2 119.12 661.8 120.9"/>
<path class="d" d="M710.8 113.5C711.3 117.1 712.2 119.12 713.6 120.9"/>
<path class="d" d="M661.7 124.1L660.2 134.1"/>
<path class="d" d="M713.7 124.1L715.2 134.1"/>
<rect class="d g2" x="663.2" y="84.7" width="49" height="3.5" rx="1.75"/>
<rect class="d g0" x="662" y="98.8" width="51.4" height="2.7" rx="1.35"/>
<rect class="d g1" x="660.6" y="110.1" width="54.2" height="3" rx="1.5"/>
<rect class="d g1" x="658.7" y="121.1" width="58" height="2.6" rx="1.3"/>
<rect class="d g1" x="658.5" y="134.5" width="58.4" height="2" rx="1"/>
<path class="d" d="M660.1 136.9L660.1 164.3"/>
<path class="d" d="M715.3 136.9L715.3 164.3"/>
<path class="d w" d="M660.1 164.3C657.4 164.3 657.4 167.2 661.1 167.2L714.3 167.2C718 167.2 718 164.3 715.3 164.3"/>
<rect class="hz" x="644.6" y="146" width="13.4" height="39.4"/>
<path class="hl" d="M644.6 148L658 148"/>
<path class="hl" d="M644.6 150.7L658 150.7"/>
<path class="hl" d="M644.6 153.4L658 153.4"/>
<path class="hl" d="M644.6 156.1L658 156.1"/>
<path class="hl" d="M644.6 158.8L658 158.8"/>
<path class="hl" d="M644.6 161.5L658 161.5"/>
<path class="hl" d="M644.6 164.2L658 164.2"/>
<path class="hl" d="M644.6 166.9L658 166.9"/>
<path class="hl" d="M644.6 169.6L658 169.6"/>
<path class="hl" d="M644.6 172.3L658 172.3"/>
<path class="hl" d="M644.6 175L658 175"/>
<path class="hl" d="M644.6 177.7L658 177.7"/>
<path class="hl" d="M644.6 180.4L658 180.4"/>
<path class="hl" d="M644.6 183.1L658 183.1"/>
<rect class="d w" x="649.6" y="140" width="4.2" height="8.4"/>
<path class="d" d="M646 146C646 142 656.6 142 656.6 146"/>
<path class="d" d="M643.7 144.4L659 144.4"/>
<path class="d" d="M644.6 185.4C641.5 186 640 188 640 190"/>
<path class="d" d="M507.2 193.3L726.5 193.3"/>
<path class="d" d="M507.2 216.2L712.3 216.2"/>
<path class="d" d="M507.2 218L726.5 218"/>
<path class="d" d="M507.7 264.3L712.3 264.3"/>
<path class="d" d="M507.7 276.8L712.3 276.8"/>
<path class="d" d="M507.7 292.8L712.3 292.8"/>
<path class="d" d="M507.7 300.3L712.3 300.3"/>
<path class="d" d="M507.7 312.9L712.3 312.9"/>
<path class="d" d="M507.7 327.7L712.3 327.7"/>
<path class="d" d="M507.7 330.2L712.3 330.2"/>
<path class="d" d="M553 284.4L606 284.4"/>
<path class="d" d="M626 285.2L677 285.2"/>
<path class="d" d="M697 285.2L712.3 285.2"/>
<path class="d" d="M507.7 284.4L532.3 284.4"/>
<path class="d" d="M553 266.2L606 266.2"/>
<path class="d" d="M626 266.2L677 266.2"/>
<path class="d w" d="M570.4 295.3L572.4 299.3L573 297.3L573.6 299.3L575.6 295.3L574.7 301.9L571.3 301.9Z"/>
<rect class="d w" x="571.3" y="301.9" width="3.4" height="65.9"/>
<rect class="d w" x="569.7" y="307.8" width="6.6" height="3.6"/>
<rect class="d w" x="567.2" y="367.8" width="11.6" height="2.3"/>
<rect class="d w" x="638.7" y="185" width="24.6" height="21"/>
<circle class="d" cx="650.9" cy="191.8" r="1.7"/>
<circle class="d" cx="646.7" cy="198.5" r="1.7"/>
<circle class="d" cx="656" cy="198.5" r="1.7"/>
<rect class="d w" x="638.7" y="206" width="24.6" height="47.8"/>
<rect class="d" x="641.2" y="208.4" width="20.1" height="43"/>
<rect class="g1" x="663.3" y="206" width="2.3" height="11.6"/>
<path class="k" d="M644 212C644 215.4 658.6 213.2 658.6 215C658.6 217.6 644 214.8 644 217.6C644 221 658.6 218.8 658.6 220.6C658.6 223.2 644 220.4 644 223.2C644 226.6 658.6 224.4 658.6 226.2C658.6 228.8 644 226 644 228.8C644 232.2 658.6 230 658.6 231.8C658.6 234.4 644 231.6 644 234.4C644 237.8 658.6 235.6 658.6 237.4C658.6 240 644 237.2 644 240C644 243.4 658.6 241.2 658.6 243C658.6 245.6 644 242.8 644 245.6C644 249 658.6 246.8 658.6 248.6C658.6 251.2 644 248.4 644 251.2"/>
<path class="d" d="M650.2 208.4L650.2 228"/>
<path class="d" d="M652.4 208.4L652.4 228"/>
<rect class="kf" x="649.4" y="227" width="3.8" height="24"/>
<rect class="kf" x="644.6" y="249.2" width="13.4" height="7.6" rx="1.5"/>
<rect class="d w" x="645" y="258" width="12.6" height="2.6" rx="1.2"/>
<rect class="d w" x="646" y="261.2" width="10.6" height="2.4" rx="1.2"/>
<path class="d w" d="M647.4 264.6L655.2 264.6L655.2 268.6L653 268.6L653 289.5L649.6 289.5L649.6 268.6L647.4 268.6Z"/>
<path class="d" d="M655.2 268C657.6 268.6 657.6 272.6 655.6 272.8"/>
<path class="d w" d="M646.2 295.3L648.2 299.3L648.8 297.3L649.4 299.3L651.4 295.3L650.5 301.9L647.1 301.9Z"/>
<rect class="d w" x="647.1" y="301.9" width="3.4" height="66.1"/>
<rect class="d w" x="645.5" y="308" width="6.6" height="3.6"/>
<rect class="d w" x="643" y="368" width="11.6" height="2.3"/>
<path class="d w" d="M538.4 198.2L538.4 187.8L542.2 179.6L545.6 179.6L549.4 187.8L549.4 198.2"/>
<path class="d" d="M538.4 187.8L549.4 187.8"/>
<path class="d" d="M542 182.4L545.8 182.4"/>
<path class="d w" d="M538.3 197.6C535.3 198.2 533.9 199.8 533.2 201.4C531.7 204.5 530.6 207.5 529.8 210.2C528.9 213.4 528 216.6 527.5 219C527 221.5 526.4 224 526.3 228L526.3 251.6L529.4 251.6L529.4 225.2L558.4 225.2L558.4 252.4L561.5 252.4L561.5 228C561.4 224 560.8 221.5 560.3 219C559.8 216.6 558.9 213.4 558 210.2C557.2 207.5 556.1 204.5 554.6 201.4C553.9 199.8 552.5 198.2 549.5 197.6Z"/>
<path class="d" d="M529.4 227.8L537.5 227.8L530.3 250.8"/>
<path class="d" d="M533.5 232L529.4 247.6"/>
<path class="d" d="M533.1 227.8L533.1 231.6L529.4 231.6"/>
<path class="d" d="M558.4 227.8L550.3 227.8L557.5 250.8"/>
<path class="d" d="M554.3 232L558.4 247.6"/>
<path class="d" d="M554.7 227.8L554.7 231.6L558.4 231.6"/>
<circle class="d w" cx="543.9" cy="237.2" r="2.3"/>
<path class="d w" d="M537.9 257.8L537.9 241.6L549.9 241.6L549.9 257.8"/>
<rect class="d w" x="534.7" y="257.8" width="18.4" height="9.2"/>
<path class="d" d="M538.3 257.8L538.3 267"/>
<path class="d" d="M549.5 257.8L549.5 267"/>
<rect class="d w" x="533.4" y="267" width="21" height="75.9"/>
<rect class="d w" x="534.7" y="343.4" width="18.4" height="8.6"/>
<path class="d" d="M532.9 347.4L554.9 347.4"/>
<path class="d" d="M538.3 343.4L538.3 352"/>
<path class="d" d="M549.5 343.4L549.5 352"/>
<rect class="d w" x="537" y="352" width="13.8" height="14.8"/>
<circle class="d" cx="543.9" cy="360.5" r="2.5"/>
<path class="d" d="M542.3 352.4A1.6 1.6 0 0 0 545.5 352.4"/>
<path class="d w" d="M610.5 198.2L610.5 187.8L614.3 179.6L617.7 179.6L621.5 187.8L621.5 198.2"/>
<path class="d" d="M610.5 187.8L621.5 187.8"/>
<path class="d" d="M614.1 182.4L617.9 182.4"/>
<path class="d w" d="M610.4 197.6C607.4 198.2 606 199.8 605.3 201.4C603.8 204.5 602.7 207.5 601.9 210.2C601 213.4 600.1 216.6 599.6 219C599.1 221.5 598.5 224 598.4 228L598.4 251.6L601.5 251.6L601.5 225.2L630.5 225.2L630.5 252.4L633.6 252.4L633.6 228C633.5 224 632.9 221.5 632.4 219C631.9 216.6 631 213.4 630.1 210.2C629.3 207.5 628.2 204.5 626.7 201.4C626 199.8 624.6 198.2 621.6 197.6Z"/>
<path class="d" d="M601.5 227.8L609.6 227.8L602.4 250.8"/>
<path class="d" d="M605.6 232L601.5 247.6"/>
<path class="d" d="M605.2 227.8L605.2 231.6L601.5 231.6"/>
<path class="d" d="M630.5 227.8L622.4 227.8L629.6 250.8"/>
<path class="d" d="M626.4 232L630.5 247.6"/>
<path class="d" d="M626.8 227.8L626.8 231.6L630.5 231.6"/>
<circle class="d w" cx="616" cy="237.2" r="2.3"/>
<path class="d w" d="M610 257.8L610 241.6L622 241.6L622 257.8"/>
<rect class="d w" x="606.8" y="257.8" width="18.4" height="9.2"/>
<path class="d" d="M610.4 257.8L610.4 267"/>
<path class="d" d="M621.6 257.8L621.6 267"/>
<rect class="d w" x="605.5" y="267" width="21" height="75.9"/>
<rect class="d w" x="606.8" y="343.4" width="18.4" height="8.6"/>
<path class="d" d="M605 347.4L627 347.4"/>
<path class="d" d="M610.4 343.4L610.4 352"/>
<path class="d" d="M621.6 343.4L621.6 352"/>
<rect class="d w" x="609.1" y="352" width="13.8" height="14.8"/>
<circle class="d" cx="616" cy="360.5" r="2.5"/>
<path class="d" d="M614.4 352.4A1.6 1.6 0 0 0 617.6 352.4"/>
<path class="d w" d="M681.9 198.2L681.9 187.8L685.7 179.6L689.1 179.6L692.9 187.8L692.9 198.2"/>
<path class="d" d="M681.9 187.8L692.9 187.8"/>
<path class="d" d="M685.5 182.4L689.3 182.4"/>
<path class="d w" d="M681.8 197.6C678.8 198.2 677.4 199.8 676.7 201.4C675.2 204.5 674.1 207.5 673.3 210.2C672.4 213.4 671.5 216.6 671 219C670.5 221.5 669.9 224 669.8 228L669.8 251.6L672.9 251.6L672.9 225.2L701.9 225.2L701.9 252.4L705 252.4L705 228C704.9 224 704.3 221.5 703.8 219C703.3 216.6 702.4 213.4 701.5 210.2C700.7 207.5 699.6 204.5 698.1 201.4C697.4 199.8 696 198.2 693 197.6Z"/>
<path class="d" d="M672.9 227.8L681 227.8L673.8 250.8"/>
<path class="d" d="M677 232L672.9 247.6"/>
<path class="d" d="M676.6 227.8L676.6 231.6L672.9 231.6"/>
<path class="d" d="M701.9 227.8L693.8 227.8L701 250.8"/>
<path class="d" d="M697.8 232L701.9 247.6"/>
<path class="d" d="M698.2 227.8L698.2 231.6L701.9 231.6"/>
<circle class="d w" cx="687.4" cy="237.2" r="2.3"/>
<path class="d w" d="M681.4 257.8L681.4 241.6L693.4 241.6L693.4 257.8"/>
<rect class="d w" x="678.2" y="257.8" width="18.4" height="9.2"/>
<path class="d" d="M681.8 257.8L681.8 267"/>
<path class="d" d="M693 257.8L693 267"/>
<rect class="d w" x="676.9" y="267" width="21" height="75.9"/>
<rect class="d w" x="678.2" y="343.4" width="18.4" height="8.6"/>
<path class="d" d="M676.4 347.4L698.4 347.4"/>
<path class="d" d="M681.8 343.4L681.8 352"/>
<path class="d" d="M693 343.4L693 352"/>
<rect class="d w" x="680.5" y="352" width="13.8" height="14.8"/>
<circle class="d" cx="687.4" cy="360.5" r="2.5"/>
<path class="d" d="M685.8 352.4A1.6 1.6 0 0 0 689 352.4"/>
<path class="d" d="M528.6 370.4L702.4 370.4"/>
<path class="d" d="M504.8 143.4L504.8 342.7"/>
<path class="d" d="M507.2 143.4L507.2 342.7"/>
<rect class="d w" x="496.4" y="149.7" width="8.4" height="12.9"/>
<path class="d" d="M496.9 162.6L496.9 293.6"/>
<path class="d" d="M500.1 162.6L500.1 293.6"/>
<path class="d" d="M496.2 182.8L504.8 182.8"/>
<path class="d" d="M487.5 160.5L496.4 160.5"/>
<path class="k" d="M510.4 233L513.6 234.66L510.4 236.31L513.6 237.97L510.4 239.62L513.6 241.28L510.4 242.94L513.6 244.59L510.4 246.25L513.6 247.91L510.4 249.56L513.6 251.22L510.4 252.88L513.6 254.53L510.4 256.19L513.6 257.84L510.4 259.5"/>
<path class="k" d="M518.4 234.6L521 236.25L518.4 237.9L521 239.55L518.4 241.2L521 242.85L518.4 244.5L521 246.15L518.4 247.8L521 249.45L518.4 251.1L521 252.75L518.4 254.4L521 256.05L518.4 257.7L521 259.35L518.4 261"/>
<path class="d" d="M517.7 216.2L517.7 263.7"/>
<path class="d" d="M521.3 216.2L521.3 263.7"/>
<path class="d" d="M507.2 227.7L517.7 227.7"/>
<path class="d" d="M507.2 231L517.7 231"/>
<rect class="kf" x="501.6" y="226.6" width="2.2" height="5.4" rx="1"/>
<rect class="d w" x="486.7" y="263.4" width="10.1" height="13.4"/>
<rect class="d w" x="494.4" y="261.8" width="2" height="16.6"/>
<rect class="d w" x="501.2" y="262.6" width="2.4" height="15"/>
<rect class="d w" x="508.2" y="262.6" width="2" height="15"/>
<path class="d" d="M487.6 468L487.6 299.5L494.4 299.5L494.4 312L487.6 312"/>
<rect class="d w" x="494.6" y="293.6" width="8.4" height="18.4"/>
<path class="k" d="M496 297L496 312"/>
<path class="k" d="M497.4 297L497.4 312"/>
<path class="k" d="M498.8 297L498.8 312"/>
<path class="k" d="M500.2 297L500.2 312"/>
<path class="k" d="M501.6 297L501.6 312"/>
<circle class="d w" cx="498.2" cy="295.2" r="2"/>
<path class="d" d="M510.2 276.8L510.2 281L525.3 281L525.3 284.4"/>
<path class="d" d="M520.2 292.8L520.2 300.3"/>
<path class="d" d="M521.2 312.9L521.2 342.7"/>
<rect class="d w" x="496.8" y="326.3" width="35.2" height="2.6"/>
<rect class="d w" x="510.2" y="321.7" width="4.2" height="10.1"/>
<rect class="d w" x="501" y="324.6" width="3" height="6"/>
<path class="d" d="M511 339.3C513 339 513.4 337 515 337C517 337 517 340 518.6 340.6L521.2 340.6L521.2 343.6L518 343.6L518 342L515.4 342.7"/>
<path class="m" d="M480 342.7L505.2 342.7"/>
<path class="m" d="M515.3 343L515.3 350"/>
<path class="d" d="M725.8 143.6L725.8 338.3"/>
<path class="d" d="M727.2 143.6L727.2 338.3"/>
<rect class="d w" x="717.6" y="154.3" width="20.4" height="8"/>
<rect class="d w" x="723.8" y="150.7" width="5.7" height="15.5"/>
<path class="d" d="M712.3 218L712.3 343.6"/>
<path class="d" d="M727.2 245L778.5 245"/>
<path class="d" d="M727.2 248.5L778.5 248.5"/>
<rect class="d w" x="778.5" y="237.3" width="20.5" height="119.3"/>
<circle class="d w" cx="782.2" cy="249" r="3"/>
<path class="d" d="M778 249L786.4 249"/>
<path class="d" d="M782.2 244.8L782.2 253.2"/>
<circle class="d w" cx="794.1" cy="298.8" r="2.8"/>
<path class="d" d="M790.1 298.8L798.1 298.8"/>
<path class="d" d="M794.1 294.8L794.1 302.8"/>
<circle class="d" cx="782.2" cy="300.5" r="1.8"/>
<circle class="d w" cx="783" cy="312.1" r="2.8"/>
<path class="d" d="M779 312.1L787 312.1"/>
<path class="d" d="M783 308.1L783 316.1"/>
<circle class="d w" cx="783" cy="331.2" r="2.8"/>
<path class="d" d="M779 331.2L787 331.2"/>
<path class="d" d="M783 327.2L783 335.2"/>
<ellipse class="d w" cx="719.4" cy="248.5" rx="2" ry="3"/>
<path class="d" d="M719.4 241.6L719.4 258"/>
<path class="d" d="M712.3 248.5L727 248.5"/>
<rect class="d w" x="731.3" y="257.8" width="5.3" height="63.2"/>
<path class="m2" d="M734 257.8L734 321"/>
<rect class="d w" x="740.2" y="261" width="2.5" height="56.4"/>
<path class="kf" d="M726.8 287.6L731.3 285.4L731.3 291.6L726.8 292.6Z"/>
<rect class="kf" x="736.6" y="286" width="3.6" height="5"/>
<path class="kf" d="M742.7 285.8C745.4 286.4 745.4 290.8 742.7 291.4Z"/>
<path class="k" d="M726.8 264.6C729.4 265 729.6 272 729 279L726.8 280.6"/>
<rect class="d w" x="761.6" y="261" width="4.1" height="58.8"/>
<path class="d" d="M761.6 293L765.7 293"/>
<path class="d" d="M778.5 261.4L767.4 261.4L767.4 284.2L778.5 284.2"/>
<path class="d" d="M778.5 298.8L767.4 298.8L767.4 319.2L778.5 319.2"/>
<path class="d" d="M698 269.4L698 343"/>
<path class="d" d="M698 269.4L726 269.4"/>
<path class="d" d="M698 281L726 281"/>
<path class="d" d="M698 292.5L726 292.5"/>
<path class="d" d="M698 301.4L726 301.4"/>
<path class="d" d="M698 313L726 313"/>
<path class="d" d="M705 284.6L721 284.6L724.6 281"/>
<rect class="d w" x="698" y="327.6" width="37.4" height="3.4"/>
<rect class="d w" x="723.8" y="325.6" width="5.7" height="7.4"/>
<rect class="d w" x="729.5" y="327.2" width="5.9" height="4.2"/>
<path class="d" d="M727 338.3L778.5 338.3"/>
<path class="d" d="M712.3 343.6L716.6 343.6L716.6 341.8"/>
<path class="d" d="M716.6 343.4A2.8 2.8 0 0 1 722.2 343.4"/>
<path class="d" d="M722.2 343.6L726.5 343.6"/>
<path class="d" d="M690 343.6L698 343.6"/>
</g>
</svg>
</body></html>
